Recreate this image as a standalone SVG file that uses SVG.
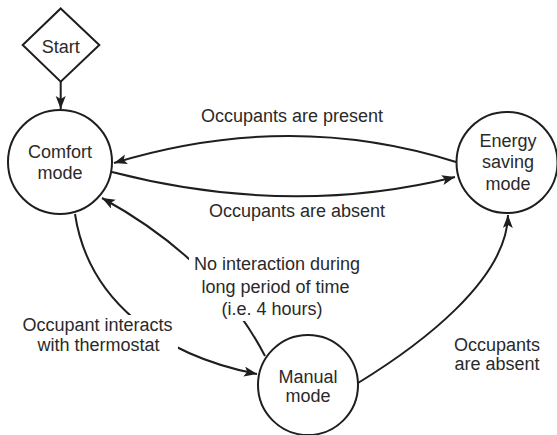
<svg xmlns="http://www.w3.org/2000/svg" width="557" height="435" viewBox="0 0 557 435">
<defs>
<style>
.node{fill:#fff;stroke:#1e1e1e;stroke-width:2}
.edge{fill:none;stroke:#1e1e1e;stroke-width:2}
text{font-family:"Liberation Sans",Arial,sans-serif;font-size:18px;fill:#2a2a2a;text-anchor:middle}
.bg{fill:#fff}
</style>
<marker id="arr" markerUnits="userSpaceOnUse" markerWidth="14" markerHeight="12" refX="13" refY="5" orient="auto">
<path d="M0,0 L13,5 L0,10 L3,5 Z" fill="#1e1e1e"/>
</marker>
</defs>
<rect width="557" height="435" fill="#fff"/>
<g id="connectors">
<path id="e-start-comfort" class="edge" d="M60.7,82 L60.7,109" marker-end="url(#arr)"/>
<path id="e-energy-comfort" class="edge" d="M456,162 Q290,109.5 114,163" marker-end="url(#arr)"/>
<path id="e-comfort-energy" class="edge" d="M112,172 Q290,218 455,177" marker-end="url(#arr)"/>
<path id="e-comfort-manual" class="edge" d="M75,214 C88,300 160,355 257,374" marker-end="url(#arr)"/>
<path id="e-manual-comfort" class="edge" d="M265,356 Q215,260 102,198" marker-end="url(#arr)"/>
<path id="e-manual-energy" class="edge" d="M358,383 C420,345 507,280 508,215" marker-end="url(#arr)"/>
</g>
<g id="labels">
<text x="292" y="122">Occupants are present</text>
<text x="297" y="216.5">Occupants are absent</text>
<rect class="bg" x="18" y="315" width="160" height="41"/>
<text x="97.5" y="330.5">Occupant interacts</text>
<text x="98.5" y="350.5">with thermostat</text>
<rect class="bg" x="189" y="255" width="176" height="66"/>
<text x="277" y="270">No interaction during</text>
<text x="275.5" y="293">long period of time</text>
<text x="272" y="315">(i.e. 4 hours)</text>
<text x="497" y="351">Occupants</text>
<text x="497" y="370">are absent</text>
</g>
<g id="start">
<polygon class="node" points="60.7,8.5 99.3,45 60.7,81.7 22.7,45"/>
<text x="60.8" y="52.5">Start</text>
</g>
<g id="comfort">
<circle class="node" cx="60" cy="162" r="52"/>
<text x="60" y="157.5">Comfort</text>
<text x="60" y="179">mode</text>
</g>
<g id="energy">
<circle class="node" cx="507" cy="162.5" r="50.5"/>
<text x="508" y="146.5">Energy</text>
<text x="508" y="168">saving</text>
<text x="508" y="190">mode</text>
</g>
<g id="manual">
<circle class="node" cx="308" cy="385" r="50"/>
<text x="308" y="383">Manual</text>
<text x="308" y="402">mode</text>
</g>
</svg>
